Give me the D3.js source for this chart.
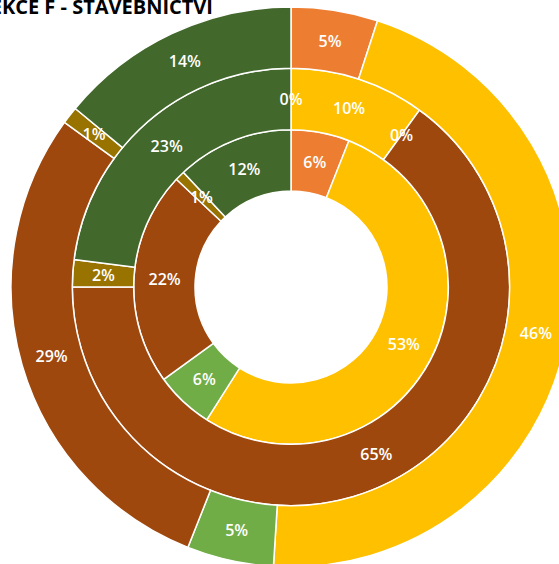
<!DOCTYPE html>
<html>
<head>
<meta charset="utf-8">
<script src="https://cdn.jsdelivr.net/npm/d3@7"></script>
<style>
	body { margin: 0; background: #fff; overflow: hidden; }
	.lbl { font-family: "Open Sans", sans-serif; font-weight: 600; font-size: 16px; fill: #fff; }
	.title { font-family: "Open Sans", sans-serif; font-weight: 700; font-size: 20px; fill: #000; }
</style>
</head>
<body>
<div class="viz"></div>
<script>
// categories in draw order (clockwise from 12 o'clock)
let categories = ['A', 'B', 'C', 'D', 'E', 'F'];
let colors = ['#ED7D31', '#FFC000', '#70AD47', '#9E480E', '#997300', '#43682B'];

// rings, inner to outer, percent
let innerRing = [6, 53, 6, 22, 1, 12];
let middleRing = [0, 10, 0, 65, 2, 23];
let outerRing = [5, 46, 5, 29, 1, 14];

let titleText = 'SEKCE F - STAVEBNICTVÍ';

let width = 559, height = 564
	, cx = 291, cy = 287
	, holeR = 96, outerR = 280;

let svg = d3.select('.viz').append('svg')
	.attr('width', width)
	.attr('height', height);

let rings = [innerRing, middleRing, outerRing];
let ringW = (outerR - holeR) / rings.length;

let pie = d3.pie()
	.sort(null)
	.value(function(d) { return d; });

let g = svg.append('g')
	.attr('transform', 'translate(' + cx + ',' + cy + ')');

rings.forEach(function(vals, i) {
	let arc = d3.arc()
		.innerRadius(holeR + i * ringW)
		.outerRadius(holeR + (i + 1) * ringW);

	let ring = g.append('g').attr('class', 'ring-' + i);

	ring.selectAll('path')
		.data(pie(vals))
		.enter().append('path')
		.attr('d', arc)
		.attr('fill', function(d, j) { return colors[j]; })
		.attr('stroke', '#fff')
		.attr('stroke-width', 1.5);

	ring.selectAll('text')
		.data(pie(vals))
		.enter().append('text')
		.attr('class', 'lbl')
		.attr('transform', function(d) { return 'translate(' + arc.centroid(d) + ')'; })
		.attr('text-anchor', 'middle')
		.attr('dy', '0.36em')
		.text(function(d) { return d.data + '%'; });
});

svg.append('text')
	.attr('class', 'title')
	.attr('x', 213)
	.attr('y', 14)
	.attr('text-anchor', 'end')
	.text(titleText);
</script>
</body>
</html>
